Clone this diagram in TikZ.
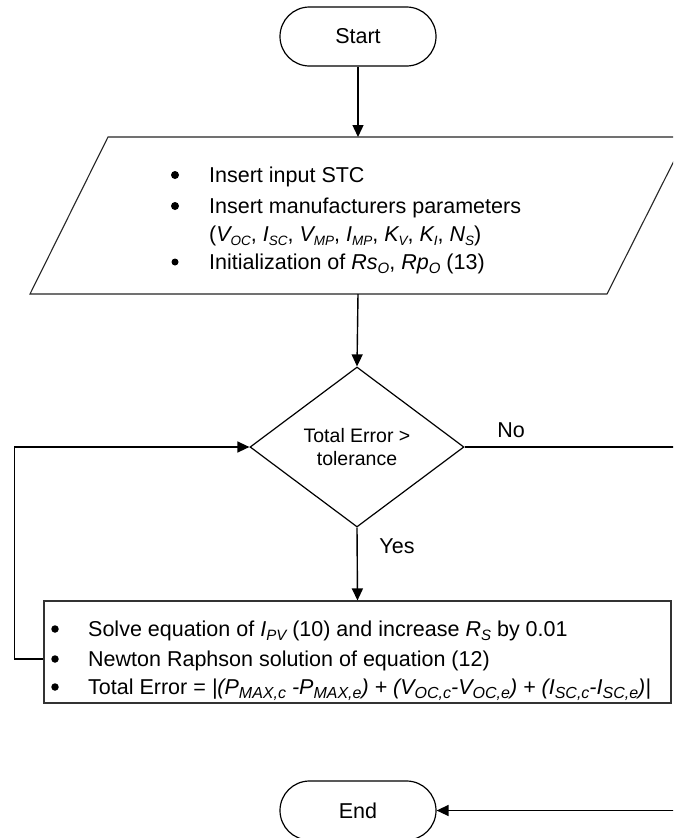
\documentclass[tikz,border=0pt]{standalone}
\usepackage{fontspec}
\setmainfont{Liberation Sans}
\usetikzlibrary{arrows.meta,shapes.geometric}
\newcommand\sbs[2][15]{\raisebox{-0.22em}{\fontsize{#1}{#1}\selectfont #2}}
\tikzset{
  conn/.style={line width=1.4pt, draw=black},
  arr/.style={conn, -{Triangle[length=12pt,width=11pt]}},
  term/.style={draw, line width=1.2pt, fill=white, rounded corners=29.5pt,
    minimum width=156pt, minimum height=59pt, inner sep=0pt,
    font=\fontsize{21.5}{26}\selectfont},
  ioshape/.style={draw=black!85, line width=1.1pt, fill=white},
  procbox/.style={draw=black!80, line width=1.1pt, fill=white, inner sep=0pt,
    minimum width=627pt, minimum height=102pt},
  decbox/.style={diamond, draw, line width=1.2pt, fill=white, inner sep=0pt,
    minimum width=214pt, minimum height=160pt, align=center,
    font=\fontsize{19.5}{23}\selectfont},
  txt/.style={anchor=base west, inner sep=0pt, font=\fontsize{21.5}{26}\selectfont},
  bul/.style={circle, fill=black, inner sep=0pt, minimum size=8pt},
  lbl/.style={anchor=base, inner sep=0pt, font=\fontsize{21.5}{26}\selectfont},
}
\begin{document}
\begin{tikzpicture}[x=1pt,y=-1pt]
\useasboundingbox (0,0) rectangle (673,838);
\clip (0,0) rectangle (673,838);
\fill[white] (0,0) rectangle (673,838);

\node[term] (start) at (358,36.5) {Start};

\draw[ioshape] (108,137) -- (686,137) -- (607,294) -- (30,294) -- cycle;
\coordinate (iotop) at (358,137);
\coordinate (iobot) at (358,294);
\node[bul] (b1) at (175,175) {};
\node[txt] (t1) at (209,182) {Insert input STC};
\node[bul] (b2) at (175,206) {};
\node[txt] (t2) at (209,213) {Insert manufacturers parameters};
\node[txt] (t3) at (209,241) {(\textit{V\sbs[13.5]{OC}}, \textit{I\sbs[13.5]{SC}}, \textit{V\sbs[13.5]{MP}}, \textit{I\sbs[13.5]{MP}}, \textit{K\sbs[13.5]{V}}, \textit{K\sbs[13.5]{I}}, \textit{N\sbs[13.5]{S}})};
\node[bul, minimum size=7pt] (b3) at (175,262) {};
\node[txt] (t4) at (209,269) {Initialization of \textit{Rs\sbs{O}}, \textit{Rp\sbs{O}} (13)};

\node[decbox] (dec) at (357,447) {Total Error >\\tolerance};

\node[procbox] (box) at (357.5,652) {};
\node[bul, minimum size=7.5pt] (c1) at (55,629) {};
\node[txt] (u1) at (88,636) {Solve equation of \textit{I\sbs{PV}} (10) and increase \textit{R\sbs{S}} by 0.01};
\node[bul, minimum size=7.5pt] (c2) at (55,659) {};
\node[txt] (u2) at (88,666) {Newton Raphson solution of equation (12)};
\node[bul, minimum size=7.5pt] (c3) at (55,687) {};
\node[txt] (u3) at (88,694) {Total Error = \textit{|(P\sbs[16]{MAX,c} -P\sbs[16]{MAX,e}) + (V\sbs[16]{OC,c}-V\sbs[16]{OC,e}) + (I\sbs[16]{SC,c}-I\sbs[16]{SC,e})|}};

\node[term] (end) at (358,810.5) {End};

\node[lbl] (no) at (511,437) {No};
\node[lbl] (yes) at (397,553) {Yes};

\coordinate (noout) at (690,447);
\coordinate (endin) at (690,810.5);

\draw[arr] (start.south) -- (iotop);
\draw[arr] (iobot) -- (dec.north);
\draw[arr] (dec.south) -- (box.north);
\draw[arr] (box.west |- c2) -- ++(-29,0) |- (dec.west);
\draw[conn] (dec.east) -- (noout);
\draw[arr] (endin) -- (end.east);
\end{tikzpicture}
\end{document}
